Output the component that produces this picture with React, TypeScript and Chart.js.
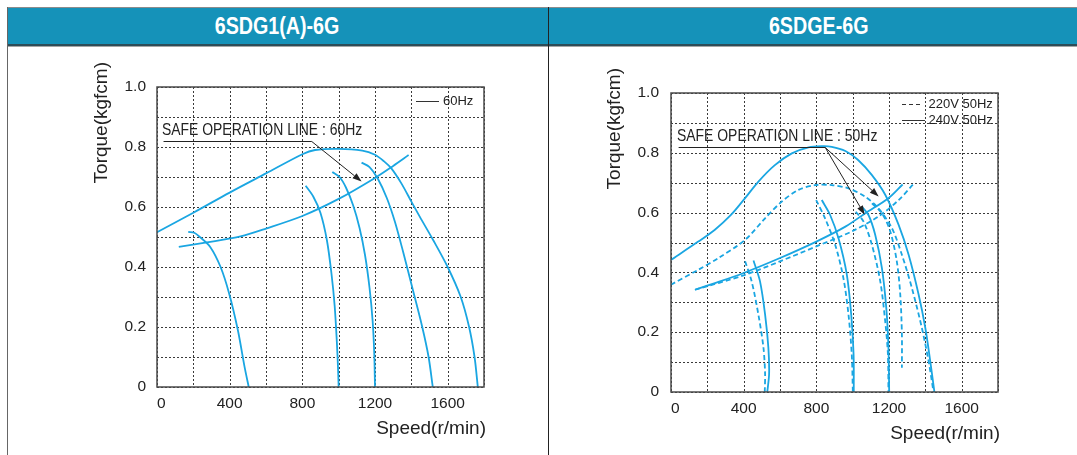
import React, { useEffect, useRef } from 'react';
import { Chart, registerables } from 'chart.js';

Chart.register(...registerables);

type Pt = [number, number];

// ---------------- shared axis data ----------------
const SPEED_TICKS = [0, 400, 800, 1200, 1600];
const TORQUE_TICKS = [0, 0.2, 0.4, 0.6, 0.8, 1.0];
const SPEED_MAX = 1800;
const TORQUE_MAX = 1.0;

// ---------------- 6SDG1(A)-6G : 60Hz ----------------
const LEFT_ENVELOPE_60HZ: Pt[] = [
  [0, 0.516], [200, 0.581], [400, 0.648], [600, 0.712], [800, 0.776], [870, 0.79],
  [1000, 0.794], [1130, 0.788], [1200, 0.774], [1250, 0.752], [1291, 0.728], [1346, 0.678],
  [1401, 0.617], [1447, 0.567], [1520, 0.49], [1600, 0.4], [1672, 0.3], [1718, 0.2],
  [1748, 0.1], [1766, 0],
];
const LEFT_SAFE_60HZ: Pt[] = [
  [120, 0.467], [275, 0.482], [460, 0.502], [600, 0.528], [800, 0.57], [1000, 0.627],
  [1200, 0.697], [1300, 0.737], [1385, 0.773],
];
const LEFT_SPEED_500: Pt[] = [
  [172, 0.517], [205, 0.514], [236, 0.5], [293, 0.467], [350, 0.4], [397, 0.312],
  [445, 0.19], [482, 0.067], [505, 0],
];
const LEFT_SPEED_1000: Pt[] = [
  [818, 0.671], [860, 0.635], [900, 0.58], [935, 0.49], [960, 0.38], [978, 0.27],
  [990, 0.15], [996, 0.07], [1000, 0],
];
const LEFT_SPEED_1200: Pt[] = [
  [965, 0.717], [1005, 0.7], [1040, 0.665], [1080, 0.605], [1115, 0.53], [1145, 0.44],
  [1170, 0.33], [1187, 0.22], [1196, 0.11], [1200, 0],
];
const LEFT_SPEED_1500: Pt[] = [
  [1126, 0.748], [1170, 0.733], [1215, 0.695], [1265, 0.63], [1310, 0.55], [1355, 0.45],
  [1410, 0.32], [1460, 0.2], [1495, 0.1], [1518, 0],
];

// ---------------- 6SDGE-6G : 220V / 240V 50Hz ----------------
const RIGHT_ENVELOPE_240V: Pt[] = [
  [0, 0.442], [150, 0.503], [240, 0.542], [330, 0.592], [410, 0.65], [480, 0.703],
  [570, 0.758], [665, 0.798], [757, 0.818], [830, 0.822], [885, 0.82], [960, 0.806],
  [1030, 0.776], [1105, 0.726], [1180, 0.659], [1253, 0.559], [1308, 0.459],
  [1363, 0.326], [1400, 0.214], [1427, 0.103], [1450, 0],
];
const RIGHT_ENVELOPE_220V: Pt[] = [
  [0, 0.359], [151, 0.409], [261, 0.448], [408, 0.509], [518, 0.581], [610, 0.637],
  [702, 0.676], [793, 0.692], [885, 0.692], [977, 0.681], [1069, 0.653], [1142, 0.614],
  [1216, 0.548], [1271, 0.459], [1326, 0.348], [1381, 0.214], [1418, 0.103], [1445, 0],
];
const RIGHT_SAFE_240V: Pt[] = [
  [132, 0.342], [242, 0.364], [400, 0.398], [600, 0.448], [800, 0.503], [960, 0.553],
  [1070, 0.598], [1197, 0.648], [1275, 0.694],
];
const RIGHT_SAFE_220V: Pt[] = [
  [132, 0.342], [400, 0.39], [600, 0.437], [800, 0.487], [995, 0.537], [1142, 0.587],
  [1253, 0.642], [1335, 0.696],
];
const RIGHT_SPEED_500_220V: Pt[] = [
  [408, 0.437], [444, 0.37], [481, 0.259], [509, 0.148], [518, 0.059], [516, 0],
];
const RIGHT_SPEED_500_240V: Pt[] = [
  [454, 0.44], [490, 0.37], [518, 0.259], [536, 0.148], [540, 0.06], [530, 0],
];
const RIGHT_SPEED_1000_220V: Pt[] = [
  [799, 0.642], [848, 0.581], [904, 0.492], [949, 0.381], [977, 0.259], [995, 0.126], [1001, 0],
];
const RIGHT_SPEED_1000_240V: Pt[] = [
  [830, 0.642], [876, 0.592], [922, 0.514], [968, 0.392], [992, 0.259], [1005, 0.126], [1006, 0],
];
const RIGHT_SPEED_1200_220V: Pt[] = [
  [1017, 0.603], [1060, 0.57], [1106, 0.492], [1152, 0.37], [1179, 0.237], [1194, 0.126], [1197, 0],
];
const RIGHT_SPEED_1200_240V: Pt[] = [
  [1050, 0.62], [1087, 0.592], [1124, 0.526], [1161, 0.414], [1185, 0.281], [1197, 0.148], [1201, 0],
];
const RIGHT_SPEED_1270_220V: Pt[] = [
  [1106, 0.631], [1161, 0.598], [1207, 0.537], [1243, 0.437], [1262, 0.326], [1271, 0.192], [1271, 0.081],
];

// ---------------- texts ----------------
const LEFT_TITLE = '6SDG1(A)-6G';
const RIGHT_TITLE = '6SDGE-6G';
const Y_TITLE = 'Torque(kgfcm)';
const X_TITLE = 'Speed(r/min)';
const LEFT_LEGEND = [{ label: '60Hz', dashed: false }];
const RIGHT_LEGEND = [
  { label: '220V 50Hz', dashed: true },
  { label: '240V 50Hz', dashed: false },
];
const LEFT_NOTE = {
  label: 'SAFE OPERATION LINE : 60Hz',
  at: [27, 0.855] as Pt,
  underline: [[36, 0.821], [852, 0.821]] as Pt[],
  tips: [[1126, 0.685]] as Pt[],
};
const RIGHT_NOTE = {
  label: 'SAFE OPERATION LINE : 50Hz',
  at: [33, 0.854] as Pt,
  underline: [[42, 0.821], [849, 0.821]] as Pt[],
  tips: [[1143, 0.654], [1066, 0.593]] as Pt[],
};

const LEFT_SERIES = [
  { points: LEFT_ENVELOPE_60HZ, dashed: false },
  { points: LEFT_SAFE_60HZ, dashed: false },
  { points: LEFT_SPEED_500, dashed: false },
  { points: LEFT_SPEED_1000, dashed: false },
  { points: LEFT_SPEED_1200, dashed: false },
  { points: LEFT_SPEED_1500, dashed: false },
];
const RIGHT_SERIES = [
  { points: RIGHT_ENVELOPE_240V, dashed: false },
  { points: RIGHT_ENVELOPE_220V, dashed: true },
  { points: RIGHT_SAFE_240V, dashed: false },
  { points: RIGHT_SAFE_220V, dashed: true },
  { points: RIGHT_SPEED_500_220V, dashed: true },
  { points: RIGHT_SPEED_500_240V, dashed: false },
  { points: RIGHT_SPEED_1000_220V, dashed: true },
  { points: RIGHT_SPEED_1000_240V, dashed: false },
  { points: RIGHT_SPEED_1200_220V, dashed: true },
  { points: RIGHT_SPEED_1200_240V, dashed: false },
  { points: RIGHT_SPEED_1270_220V, dashed: true },
];

// ---------------- styling ----------------
const FONT = '"Liberation Sans", Arial, Helvetica, sans-serif';
const BLUE = '#1aa6e2';
const INK = '#222222';

type Spec = {
  series: { points: Pt[]; dashed: boolean }[];
  legend: { label: string; dashed: boolean }[];
  note: { label: string; at: Pt; underline: Pt[]; tips: Pt[] };
  padTop: number;
  padRight: number;
  yAxisW: number;
  xAxisH: number;
  yPad: number;
  yTitleDx: number;
  legendLine: [number, number][]; // offsets from chart right
  legendTextDx: number;
  legendDy: number[];
};

const LEFT_SPEC: Spec = {
  series: LEFT_SERIES,
  legend: LEFT_LEGEND,
  note: LEFT_NOTE,
  padTop: 40,
  padRight: 64,
  yAxisW: 149,
  xAxisH: 68,
  yPad: 11,
  yTitleDx: -55,
  legendLine: [[-68, -45]],
  legendTextDx: -41,
  legendDy: [14],
};
const RIGHT_SPEC: Spec = {
  series: RIGHT_SERIES,
  legend: RIGHT_LEGEND,
  note: RIGHT_NOTE,
  padTop: 46,
  padRight: 79,
  yAxisW: 122,
  xAxisH: 63,
  yPad: 12,
  yTitleDx: -56.5,
  legendLine: [[-96, -76], [-96, -73]],
  legendTextDx: -69.5,
  legendDy: [11, 26.5],
};

function makePlugin(spec: Spec) {
  return {
    id: 'decor',
    beforeDatasetsDraw(chart: any) {
      const { ctx, chartArea: a, scales } = chart;
      const x = scales.x;
      const y = scales.y;
      ctx.save();
      ctx.strokeStyle = '#3a3a3a';
      ctx.lineWidth = 1;
      ctx.setLineDash([2, 2]);
      x.ticks.forEach((t: any) => {
        const px = Math.round(x.getPixelForValue(t.value)) + 0.5;
        ctx.beginPath();
        ctx.moveTo(px, a.top);
        ctx.lineTo(px, a.bottom);
        ctx.stroke();
      });
      y.ticks.forEach((t: any) => {
        const py = Math.round(y.getPixelForValue(t.value)) + 0.5;
        ctx.beginPath();
        ctx.moveTo(a.left, py);
        ctx.lineTo(a.right, py);
        ctx.stroke();
      });
      ctx.restore();
    },
    afterDatasetsDraw(chart: any) {
      const { ctx, chartArea: a, scales } = chart;
      const x = scales.x;
      const y = scales.y;
      const P = (p: Pt) => [x.getPixelForValue(p[0]), y.getPixelForValue(p[1])];

      // frame
      ctx.save();
      ctx.strokeStyle = '#4a4a4a';
      ctx.lineWidth = 1.5;
      ctx.setLineDash([]);
      ctx.strokeRect(a.left, a.top, a.right - a.left, a.bottom - a.top);

      // legend
      ctx.font = `13px ${FONT}`;
      ctx.fillStyle = INK;
      ctx.textBaseline = 'middle';
      ctx.textAlign = 'left';
      spec.legend.forEach((item, i) => {
        const ly = a.top + spec.legendDy[i];
        const [x0, x1] = spec.legendLine[i];
        ctx.strokeStyle = '#333';
        ctx.lineWidth = 1;
        ctx.setLineDash(item.dashed ? [4, 3] : []);
        ctx.beginPath();
        ctx.moveTo(a.right + x0, Math.round(ly) + 0.5);
        ctx.lineTo(a.right + x1, Math.round(ly) + 0.5);
        ctx.stroke();
        ctx.fillText(item.label, a.right + spec.legendTextDx, ly + 0.5);
      });
      ctx.setLineDash([]);

      // safe operation note
      const note = spec.note;
      const [tx, ty] = P(note.at);
      ctx.save();
      ctx.translate(tx, ty);
      ctx.scale(0.82, 1);
      ctx.font = `17px ${FONT}`;
      ctx.fillStyle = INK;
      ctx.textBaseline = 'middle';
      ctx.textAlign = 'left';
      ctx.fillText(note.label, 0, 0);
      ctx.restore();

      const [u0x, u0y] = P(note.underline[0]);
      const [u1x, u1y] = P(note.underline[1]);
      ctx.strokeStyle = INK;
      ctx.fillStyle = INK;
      ctx.lineWidth = 1;
      ctx.beginPath();
      ctx.moveTo(u0x, Math.round(u0y) + 0.5);
      ctx.lineTo(u1x, Math.round(u1y) + 0.5);
      ctx.stroke();
      note.tips.forEach((tip) => {
        const [ex, ey] = P(tip);
        const sx = u1x;
        const sy = Math.round(u1y) + 0.5;
        const ang = Math.atan2(ey - sy, ex - sx);
        const len = 9;
        const hw = 3.2;
        const bx = ex - Math.cos(ang) * len;
        const by = ey - Math.sin(ang) * len;
        ctx.beginPath();
        ctx.moveTo(sx, sy);
        ctx.lineTo(bx, by);
        ctx.stroke();
        ctx.beginPath();
        ctx.moveTo(ex, ey);
        ctx.lineTo(bx + Math.sin(ang) * hw, by - Math.cos(ang) * hw);
        ctx.lineTo(bx - Math.sin(ang) * hw, by + Math.cos(ang) * hw);
        ctx.closePath();
        ctx.fill();
      });

      // axis titles
      ctx.font = `19px ${FONT}`;
      ctx.fillStyle = INK;
      ctx.textBaseline = 'middle';
      ctx.textAlign = 'right';
      ctx.fillText(X_TITLE, a.right + 2, a.bottom + 42);
      ctx.save();
      ctx.translate(a.left + spec.yTitleDx, a.top - 25);
      ctx.rotate(-Math.PI / 2);
      ctx.textAlign = 'right';
      ctx.fillText(Y_TITLE, 0, 0);
      ctx.restore();

      ctx.restore();
    },
  };
}

function makeConfig(spec: Spec): any {
  const tickFont = { family: FONT, size: 15.5 };
  return {
    type: 'scatter',
    data: {
      datasets: spec.series.map((s) => ({
        data: s.points.map(([x, y]) => ({ x, y })),
        showLine: true,
        borderColor: BLUE,
        backgroundColor: BLUE,
        borderWidth: 1.8,
        borderDash: s.dashed ? [5, 3] : [],
        pointRadius: 0,
        pointHoverRadius: 0,
        tension: 0.3,
        fill: false,
      })),
    },
    options: {
      animation: false,
      responsive: false,
      maintainAspectRatio: false,
      events: [],
      layout: { padding: { left: 0, top: spec.padTop, right: spec.padRight, bottom: 0 } },
      plugins: { legend: { display: false }, tooltip: { enabled: false }, title: { display: false } },
      scales: {
        x: {
          type: 'linear',
          min: 0,
          max: SPEED_MAX,
          afterFit: (s: any) => {
            s.height = spec.xAxisH;
          },
          grid: { display: false, drawTicks: false },
          border: { display: false },
          ticks: {
            stepSize: 200,
            autoSkip: false,
            maxRotation: 0,
            minRotation: 0,
            align: 'inner',
            padding: 7,
            color: INK,
            font: tickFont,
            callback: (v: number) => (SPEED_TICKS.includes(v) ? String(v) : ''),
          },
        },
        y: {
          type: 'linear',
          min: 0,
          max: TORQUE_MAX,
          afterFit: (s: any) => {
            s.width = spec.yAxisW;
          },
          grid: { display: false, drawTicks: false },
          border: { display: false },
          ticks: {
            stepSize: 0.1,
            autoSkip: false,
            padding: spec.yPad,
            color: INK,
            font: tickFont,
            callback: (v: number) => {
              const t = TORQUE_TICKS.find((k) => Math.abs(k - v) < 1e-6);
              if (t === undefined) return '';
              return t === 0 ? '0' : t.toFixed(1);
            },
          },
        },
      },
    },
    plugins: [makePlugin(spec)],
  };
}

const abs = (l: number, t: number, w: number, h: number, bg: string): React.CSSProperties => ({
  position: 'absolute',
  left: l,
  top: t,
  width: w,
  height: h,
  background: bg,
});

export default function App() {
  const leftRef = useRef<HTMLCanvasElement>(null);
  const rightRef = useRef<HTMLCanvasElement>(null);

  useEffect(() => {
    const charts: Chart[] = [];
    if (leftRef.current) charts.push(new Chart(leftRef.current, makeConfig(LEFT_SPEC)));
    if (rightRef.current) charts.push(new Chart(rightRef.current, makeConfig(RIGHT_SPEC)));
    return () => charts.forEach((c) => c.destroy());
  }, []);

  const headText: React.CSSProperties = {
    display: 'inline-block',
    transform: 'scaleX(0.82)',
    color: '#ffffff',
    fontWeight: 'bold',
    fontSize: 24,
    lineHeight: '36px',
    fontFamily: FONT,
    whiteSpace: 'nowrap',
  };

  return (
    <div
      style={{
        position: 'absolute',
        left: 0,
        top: 0,
        width: 1077,
        height: 455,
        background: '#ffffff',
        overflow: 'hidden',
        fontFamily: FONT,
      }}
    >
      <div style={abs(7, 7, 1070, 1, '#8c8c8c')} />
      <div style={abs(7, 8, 1070, 36, '#1592b9')} />
      <div style={abs(7, 44, 1070, 2, '#2d4d58')} />
      <div style={abs(7, 46, 1070, 1, '#a5a5a5')} />
      <div style={{ ...abs(7, 8, 541, 36, 'transparent'), textAlign: 'center' }}>
        <span style={headText}>{LEFT_TITLE}</span>
      </div>
      <div style={{ ...abs(549, 8, 540, 36, 'transparent'), textAlign: 'center' }}>
        <span style={headText}>{RIGHT_TITLE}</span>
      </div>
      <div style={abs(7, 7, 1, 448, '#666666')} />
      <div style={abs(548, 7, 1, 448, '#222222')} />
      <canvas
        ref={leftRef}
        width={540}
        height={408}
        style={{ position: 'absolute', left: 8, top: 47, width: 540, height: 408 }}
      />
      <canvas
        ref={rightRef}
        width={528}
        height={408}
        style={{ position: 'absolute', left: 549, top: 47, width: 528, height: 408 }}
      />
    </div>
  );
}
